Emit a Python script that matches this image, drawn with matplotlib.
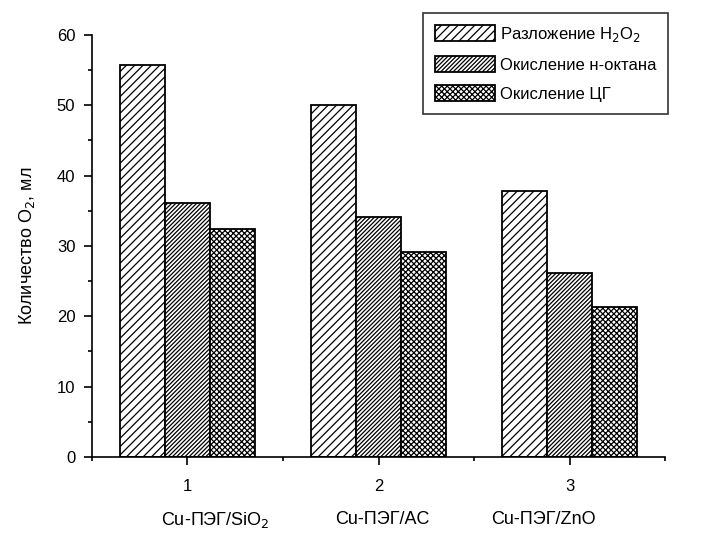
import matplotlib
matplotlib.use('Agg')

import numpy as np
import matplotlib.pyplot as plt
from matplotlib.ticker import MultipleLocator, FixedLocator

plt.rcParams['font.family'] = ['Liberation Sans', 'DejaVu Sans']
plt.rcParams['hatch.linewidth'] = 0.9

groups = [1, 2, 3]
catalysts = ['Cu-ПЭГ/SiO$_2$', 'Cu-ПЭГ/AC', 'Cu-ПЭГ/ZnO']
h2o2 = [55.8, 50.1, 37.8]
octane = [36.1, 34.1, 26.1]
cg = [32.4, 29.2, 21.3]
series_names = ['Разложение H$_2$O$_2$', 'Окисление н-октана', 'Окисление ЦГ']

fig = plt.figure(figsize=(7.17, 5.36), dpi=100)
ax = fig.add_axes([0.1283, 0.1474, 0.7992, 0.7873])

w = 0.235
x = np.array(groups, dtype=float)
hatches = ['////', '////////', 'xxxxxx']
for i, (vals, name) in enumerate(zip([h2o2, octane, cg], series_names)):
    ax.bar(x + (i - 1) * w, vals, width=w, facecolor='white', edgecolor='black',
           linewidth=1.3, hatch=hatches[i], label=name)

ax.set_xlim(0.5, 3.5)
ax.set_ylim(0, 60)
ax.spines['top'].set_visible(False)
ax.spines['right'].set_visible(False)
ax.spines['left'].set_linewidth(1.2)
ax.spines['bottom'].set_linewidth(1.2)

ax.xaxis.set_major_locator(FixedLocator(groups))
ax.xaxis.set_minor_locator(FixedLocator([0.5, 1.5, 2.5, 3.5]))
ax.yaxis.set_major_locator(MultipleLocator(10))
ax.yaxis.set_minor_locator(MultipleLocator(5))
ax.tick_params(which='major', direction='out', length=6, width=1.2, labelsize=12, pad=6)
ax.tick_params(which='minor', direction='out', length=3, width=1.2)
ax.tick_params(axis='x', pad=10)

ax.set_ylabel('Количество O$_2$, мл', fontsize=13, labelpad=14)

# catalyst names under the group numbers
for xc, lab in zip([215, 382, 543], catalysts):
    fig.text(xc / 717, 1 - 520 / 536, lab, ha='center', va='center', fontsize=13)

leg = ax.legend(loc='upper right', bbox_to_anchor=(668 / 717, 1 - 13 / 536),
                bbox_transform=fig.transFigure, fontsize=12, frameon=True,
                fancybox=False, edgecolor='black', handlelength=3.6, handleheight=1.1,
                handletextpad=0.3, labelspacing=0.75, borderpad=0.7, borderaxespad=0)
leg.get_frame().set_linewidth(1.2)

plt.savefig('out.png', dpi=100)
